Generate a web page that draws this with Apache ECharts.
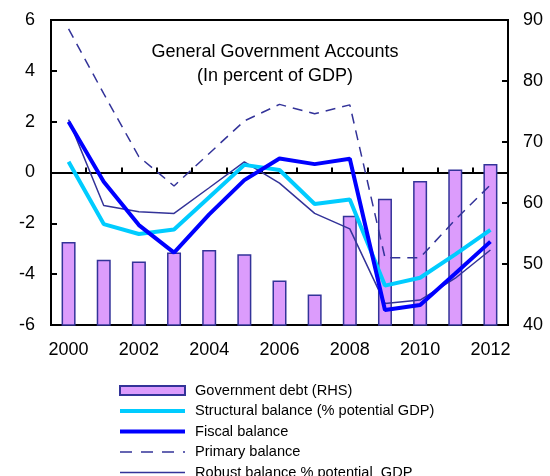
<!DOCTYPE html>
<html>
<head>
<meta charset="utf-8">
<script src="https://cdn.jsdelivr.net/npm/echarts@6/dist/echarts.min.js"></script>
<style>
  html, body { margin: 0; padding: 0; background: #fff; }
  #chart { width: 550px; height: 476px; }
</style>
</head>
<body>
<div id="chart"></div>
<script>
// Years on the category axis
const years = ['2000','2001','2002','2003','2004','2005','2006','2007','2008','2009','2010','2011','2012'];

// Government debt, percent of GDP (right-hand scale)
const govDebt = [53.6, 50.7, 50.4, 51.9, 52.3, 51.6, 47.3, 45.0, 57.9, 60.7, 63.6, 65.5, 66.4];

// Balances, percent of GDP (left-hand scale)
const structuralBalance = [0.42, -2.03, -2.42, -2.24, -0.97, 0.30, 0.10, -1.24, -1.06, -4.45, -4.14, -3.22, -2.26];
const fiscalBalance     = [2.00, -0.36, -2.07, -3.15, -1.65, -0.30, 0.55, 0.33, 0.54, -5.41, -5.21, -3.97, -2.72];
const primaryBalance    = [5.65, 3.10, 0.62, -0.53, 0.75, 2.03, 2.68, 2.31, 2.66, -3.35, -3.35, -1.86, -0.49];
const robustBalance     = [2.08, -1.30, -1.54, -1.61, -0.60, 0.42, -0.42, -1.61, -2.22, -5.15, -5.02, -4.16, -3.05];

// Tick labels
const leftTicks = { min: -6, max: 6, step: 2 };
const rightTicks = { min: 40, max: 90, step: 10 };

const FONT = '"Liberation Sans", Arial, sans-serif';
const NAVY = '#333399';
const CYAN = '#00ccff';
const BLUE = '#0000ff';

// Legend entries for lines: stroke only, no marker in the middle
const noMarker = { color: 'transparent', borderWidth: 0, opacity: 0 };

const chart = echarts.init(document.getElementById('chart'), null, { renderer: 'canvas' });

chart.setOption({
  animation: false,
  backgroundColor: '#ffffff',
  title: {
    text: 'General Government Accounts\n(In percent of GDP)',
    left: 'center',
    top: 35,
    textStyle: { fontFamily: FONT, fontSize: 18, fontWeight: 'normal', color: '#000', lineHeight: 24, align: 'center' }
  },
  legend: {
    orient: 'vertical',
    left: 118,
    top: 383,
    height: 140,
    padding: 0,
    itemWidth: 65,
    itemHeight: 9,
    itemGap: 5.5,
    textStyle: { fontFamily: FONT, fontSize: 14.6, color: '#000', padding: [0, 0, 0, 5] },
    data: [
      { name: 'Government debt (RHS)', icon: 'rect' },
      { name: 'Structural balance (% potential GDP)', itemStyle: noMarker, lineStyle: { width: 4 } },
      { name: 'Fiscal balance', itemStyle: noMarker, lineStyle: { width: 4 } },
      { name: 'Primary balance', itemStyle: noMarker, lineStyle: { width: 1.5, type: [12, 9] } },
      { name: 'Robust balance % potential  GDP', itemStyle: noMarker, lineStyle: { width: 1.5 } }
    ]
  },
  grid: {
    left: 51, right: 42, top: 20, bottom: 151,
    show: true, borderColor: '#000', borderWidth: 2, backgroundColor: 'transparent'
  },
  xAxis: [
    {
      type: 'category',
      data: years,
      position: 'bottom',
      boundaryGap: true,
      axisLine: { onZero: false, lineStyle: { color: '#000', width: 2 } },
      axisTick: { show: false },
      axisLabel: { interval: 1, margin: 16, fontFamily: FONT, fontSize: 18, color: '#000' },
      splitLine: { show: false }
    },
    {
      type: 'category',
      data: years,
      position: 'top',
      boundaryGap: true,
      axisLine: { onZero: true, onZeroAxisIndex: 0, lineStyle: { color: '#000', width: 2 } },
      axisTick: { show: true, inside: false, length: 5, lineStyle: { color: '#000', width: 2 } },
      axisLabel: { show: false },
      splitLine: { show: false }
    }
  ],
  yAxis: [
    {
      type: 'value',
      min: leftTicks.min, max: leftTicks.max, interval: leftTicks.step,
      position: 'left',
      axisLine: { show: true, onZero: false, lineStyle: { color: '#000', width: 2 } },
      axisTick: { show: true, inside: true, length: 6, lineStyle: { color: '#000', width: 2 } },
      axisLabel: { margin: 16, fontFamily: FONT, fontSize: 18, color: '#000' },
      splitLine: { show: false }
    },
    {
      type: 'value',
      min: rightTicks.min, max: rightTicks.max, interval: rightTicks.step,
      position: 'right',
      axisLine: { show: true, onZero: false, lineStyle: { color: '#000', width: 2 } },
      axisTick: { show: true, inside: true, length: 6, lineStyle: { color: '#000', width: 2 } },
      axisLabel: { margin: 15, fontFamily: FONT, fontSize: 18, color: '#000' },
      splitLine: { show: false }
    }
  ],
  series: [
    {
      name: 'Government debt (RHS)',
      type: 'bar',
      xAxisIndex: 0,
      yAxisIndex: 1,
      data: govDebt,
      barWidth: 14,
      itemStyle: { color: '#dc9cfc', borderColor: NAVY, borderWidth: 1.5 },
      z: 1
    },
    {
      name: 'Structural balance (% potential GDP)',
      type: 'line',
      xAxisIndex: 0,
      yAxisIndex: 0,
      data: structuralBalance,
      symbol: 'none',
      lineStyle: { color: CYAN, width: 4 },
      itemStyle: { color: CYAN },
      z: 3
    },
    {
      name: 'Fiscal balance',
      type: 'line',
      xAxisIndex: 0,
      yAxisIndex: 0,
      data: fiscalBalance,
      symbol: 'none',
      lineStyle: { color: BLUE, width: 4 },
      itemStyle: { color: BLUE },
      z: 4
    },
    {
      name: 'Primary balance',
      type: 'line',
      xAxisIndex: 0,
      yAxisIndex: 0,
      data: primaryBalance,
      symbol: 'none',
      lineStyle: { color: NAVY, width: 1.5, type: [10, 7] },
      itemStyle: { color: NAVY },
      z: 2
    },
    {
      name: 'Robust balance % potential  GDP',
      type: 'line',
      xAxisIndex: 0,
      yAxisIndex: 0,
      data: robustBalance,
      symbol: 'none',
      lineStyle: { color: NAVY, width: 1.5 },
      itemStyle: { color: NAVY },
      z: 2
    }
  ]
});
</script>
</body>
</html>
